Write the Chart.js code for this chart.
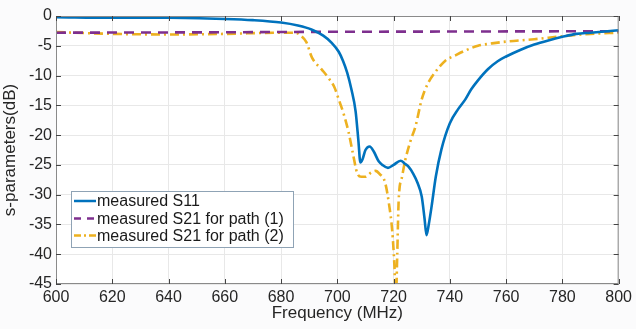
<!DOCTYPE html>
<html><head><meta charset="utf-8">
<script src="https://cdn.jsdelivr.net/npm/chart.js@4/dist/chart.umd.min.js"></script>
<style>
html,body{margin:0;padding:0;background:#fbfbfc;}
#wrap{width:636px;height:329px;position:relative;}
</style></head>
<body><div id="wrap"><canvas id="c" width="636" height="329"></canvas></div>
<script>
// ---- data ----
const s11Freq = [600,620,640,660,670,680,686,691,695,698,700.5,702,703.5,705,706.5,707.5,708.2,709,710,711.5,713,714.7,716,718,720,722.5,724,725.3,727,728.5,730,731,731.7,732.5,733.5,735,737,740,743,745.5,747.6,750,753.6,757,760,765,770,775,780,785,790,795,800];
const s11Vals = [-0.2,-0.3,-0.3,-0.5,-0.7,-1.1,-1.6,-2.3,-3.3,-4.5,-6,-7.5,-9.5,-12.3,-16,-21,-24.6,-24,-22.5,-21.9,-22.8,-24.4,-25,-25.5,-25,-24.3,-24.8,-25.3,-26.5,-28,-30.3,-34,-36.8,-35,-32,-27,-22.4,-18,-15.6,-14,-12.3,-10.8,-8.9,-7.6,-6.8,-5.7,-4.8,-4.1,-3.5,-3.0,-2.8,-2.6,-2.4];
const s21p1Freq = [600,650,700,750,800];
const s21p1Vals = [-2.8,-2.75,-2.65,-2.6,-2.55];
const s21p2Freq = [600,620,640,660,680,685,687,689,691,694.5,697,699,700.5,702.3,704,705.5,707,708.5,710,712,713.6,715,717,718.5,719.5,720.3,720.8,721.3,721.8,723,724.2,726,727.8,730,732,735,738.4,742,745.5,750,755,760,770,780,790,800];
const s21p2Vals = [-2.7,-3.0,-3.1,-3.0,-2.8,-2.8,-3.3,-4.4,-7,-9,-10.5,-12,-14,-16.5,-19.5,-23,-26.3,-27,-27,-26.3,-26,-26.5,-28,-32,-36,-42,-48,-40,-31,-27,-24.1,-21,-18.5,-14,-11.5,-9.3,-7.5,-6.6,-5.8,-5,-4.6,-4.3,-3.9,-3.4,-3.0,-2.8];
const seriesNames = ['measured S11','measured S21 for path (1)','measured S21 for path (2)'];
const xTitle = 'Frequency (MHz)';
const yTitle = 's-parameters(dB)';

const pts = (xs, ys) => xs.map((x,i)=>({x:x,y:ys[i]}));
const FONT = '"Liberation Sans", Arial, sans-serif';

const colors = ['#0072BD','#7E2F8E','#EDB120'];
const dashes = [[],[10,7],[9,4,2,4]];

const frame = {
  id:'frame',
  afterDatasetsDraw(chart){
    const {ctx, chartArea:a, scales} = chart;
    ctx.save();
    ctx.strokeStyle='#8a8a8a';
    ctx.lineWidth=1;
    ctx.strokeRect(a.left+0.5,a.top+0.5,a.right-a.left-1,a.bottom-a.top-1);
    ctx.strokeStyle='#444';
    const L=5;
    scales.x.ticks.forEach(t=>{
      const px=Math.round(scales.x.getPixelForValue(t.value))+0.5;
      ctx.beginPath();
      ctx.moveTo(px,a.bottom);ctx.lineTo(px,a.bottom-L);
      ctx.moveTo(px,a.top);ctx.lineTo(px,a.top+L);
      ctx.stroke();
    });
    scales.y.ticks.forEach(t=>{
      const py=Math.round(scales.y.getPixelForValue(t.value))+0.5;
      ctx.beginPath();
      ctx.moveTo(a.left,py);ctx.lineTo(a.left+L,py);
      ctx.moveTo(a.right,py);ctx.lineTo(a.right-L,py);
      ctx.stroke();
    });
    // legend
    const lx=71, ly=191, lw=222, lh=56;
    ctx.fillStyle='#ffffff';
    ctx.fillRect(lx,ly,lw,lh);
    ctx.strokeStyle='#8fa3b5';
    ctx.lineWidth=1;
    ctx.strokeRect(lx+0.5,ly+0.5,lw,lh);
    ctx.font='16px '+FONT;
    ctx.textBaseline='middle';
    const rows=[201,218.5,235.5];
    seriesNames.forEach((n,i)=>{
      ctx.strokeStyle=colors[i];
      ctx.lineWidth=2.5;
      ctx.setLineDash(i===1?[7,6]:(i===2?[7,3,2,3]:[]));
      ctx.beginPath();
      ctx.moveTo(74,rows[i]);ctx.lineTo(96,rows[i]);
      ctx.stroke();
      ctx.setLineDash([]);
      ctx.fillStyle='#1a1a1a';
      ctx.fillText(n,97,rows[i]+1);
    });
    ctx.restore();
  }
};

const bg = {
  id:'bg',
  beforeDraw(chart){
    const {ctx, chartArea:a}=chart;
    ctx.save();
    ctx.fillStyle='#ffffff';
    ctx.fillRect(a.left,a.top,a.right-a.left,a.bottom-a.top);
    ctx.restore();
  }
};

new Chart(document.getElementById('c'),{
  type:'line',
  data:{datasets:[
    {label:seriesNames[0],data:pts(s11Freq,s11Vals),borderColor:colors[0],borderWidth:2.6,borderDash:dashes[0],pointRadius:0,cubicInterpolationMode:'monotone',fill:false},
    {label:seriesNames[1],data:pts(s21p1Freq,s21p1Vals),borderColor:colors[1],borderWidth:2.6,borderDash:dashes[1],pointRadius:0,fill:false},
    {label:seriesNames[2],data:pts(s21p2Freq,s21p2Vals),borderColor:colors[2],borderWidth:2.6,borderDash:dashes[2],pointRadius:0,cubicInterpolationMode:'monotone',fill:false}
  ]},
  options:{
    responsive:false,animation:false,
    layout:{padding:{top:16,right:15,left:0,bottom:0}},
    plugins:{legend:{display:false},tooltip:{enabled:false}},
    scales:{
      x:{type:'linear',min:600,max:800,
        ticks:{stepSize:20,font:{size:16,family:FONT},color:'#262626',padding:4,maxRotation:0,autoSkip:false},
        grid:{color:'#e8e8e8',drawTicks:false},
        border:{display:false},
        title:{display:true,text:xTitle,font:{size:17,family:FONT},color:'#262626',padding:{top:0,bottom:5}},
        afterFit(s){s.height=45;}
      },
      y:{min:-45,max:0,
        ticks:{stepSize:5,font:{size:16,family:FONT},color:'#262626',padding:4,autoSkip:false},
        grid:{color:'#e8e8e8',drawTicks:false},
        border:{display:false},
        title:{display:true,text:yTitle,font:{size:17,family:FONT},color:'#262626',padding:{top:0,bottom:0}},
        afterFit(s){s.width=56;}
      }
    }
  },
  plugins:[bg,frame]
});
</script></body></html>
